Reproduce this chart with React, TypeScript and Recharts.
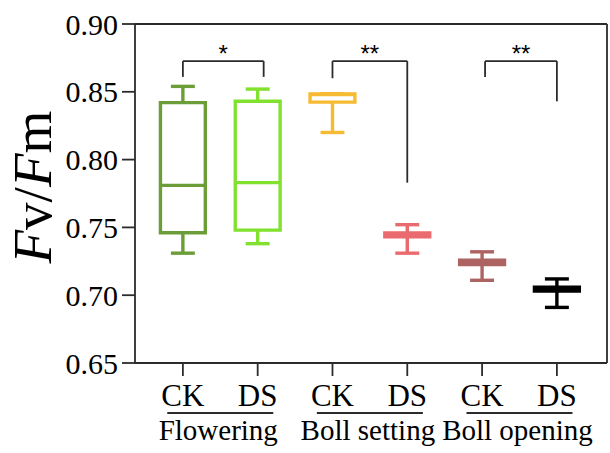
import {
  ComposedChart,
  XAxis,
  YAxis,
  Scatter,
  ReferenceArea,
  ReferenceLine,
} from "recharts"

// treatment / stage labels
const stages = ["Flowering", "Boll setting", "Boll opening"]
const treatments = ["CK", "DS"]

// one box per stage x treatment, placed at x = 1..6
const boxPos = [1, 2, 3, 4, 5, 6]
const boxMin = [0.731, 0.738, 0.82, 0.731, 0.711, 0.691]
const boxQ1 = [0.746, 0.748, 0.8424, 0.7431, 0.7226, 0.703]
const boxMedian = [0.781, 0.783, 0.848, 0.7445, 0.7242, 0.7045]
const boxQ3 = [0.842, 0.843, 0.8485, 0.7459, 0.7258, 0.7059]
const boxMax = [0.854, 0.852, 0.8485, 0.752, 0.732, 0.712]
const boxColors = ["#6b9d39", "#80e12f", "#f6bb33", "#ea6b6f", "#ae6363", "#000000"]

// significance brackets between CK and DS
const bracketFrom = [1, 3, 5.04]
const bracketTo = [2.08, 4, 6]
const bracketTop = [0.8726, 0.8726, 0.8726]
const bracketLeftEnd = [0.861, 0.86, 0.861]
const bracketRightEnd = [0.861, 0.783, 0.843]
const bracketMarks = ["*", "**", "**"]

const yTicks = [0.65, 0.7, 0.75, 0.8, 0.85, 0.9]
const xTicks = [1, 2, 3, 4, 5, 6]

const WIDTH = 610
const HEIGHT = 453
const MARGIN = { top: 24, right: 3, left: 0, bottom: 0 }
const Y_AXIS_W = 135
const X_DOMAIN: [number, number] = [0.36, 6.67]
const PX_PER_UNIT = (WIDTH - Y_AXIS_W - MARGIN.right) / (X_DOMAIN[1] - X_DOMAIN[0])
const BOX_HALF = 0.3
const CAP_HALF = 0.16
const AXIS = "#2b2b2b"
const SERIF = '"Liberation Serif", "Times New Roman", serif'

const marks = bracketMarks.map((m, i) => ({
  x: (bracketFrom[i] + bracketTo[i]) / 2,
  y: bracketTop[i],
  mark: m,
}))

// CK / DS under each tick; under every CK also the stage name with its rule
function TreatmentTick(props: any) {
  const { x, y, payload } = props
  const idx = Math.round(payload.value) - 1
  const isFirst = idx % 2 === 0
  const mid = x + PX_PER_UNIT / 2
  return (
    <g>
      <text x={x} y={y + 23} textAnchor="middle" fontFamily={SERIF} fontSize={31} fill="#000">
        {treatments[idx % 2]}
      </text>
      {isFirst && (
        <>
          <line x1={mid - 53} x2={mid + 53} y1={y + 30} y2={y + 30} stroke={AXIS} strokeWidth={2} />
          <text x={mid - 2} y={y + 57} textAnchor="middle" fontFamily={SERIF} fontSize={29} fill="#000">
            {stages[idx / 2]}
          </text>
        </>
      )}
    </g>
  )
}

// rotated axis title, anchored at its lower end
function YLabel(props: any) {
  const vb = props.viewBox || { x: 0, y: 24, width: 135, height: 339 }
  const cx = vb.x + 32
  const bottom = vb.y + vb.height / 2 + 70
  return (
    <g transform={`translate(${cx}, ${bottom}) rotate(-90)`}>
      <text
        x={0}
        y={0}
        textAnchor="start"
        dominantBaseline="central"
        fontFamily={SERIF}
        fontSize={55}
        fill="#000"
      >
        <tspan fontStyle="italic">F</tspan>
        <tspan>v/</tspan>
        <tspan fontStyle="italic">F</tspan>
        <tspan>m</tspan>
      </text>
    </g>
  )
}

export default function App() {
  return (
    <div style={{ position: "absolute", left: 0, top: 0, width: WIDTH, height: HEIGHT, background: "#fff" }}>
      <ComposedChart width={WIDTH} height={HEIGHT} margin={MARGIN}>
        <XAxis
          dataKey="x"
          type="number"
          domain={X_DOMAIN}
          ticks={xTicks}
          allowDataOverflow
          height={90}
          tick={<TreatmentTick />}
          tickSize={13}
          tickMargin={7}
          stroke={AXIS}
          strokeWidth={1.8}
        />
        <YAxis
          dataKey="y"
          type="number"
          domain={[0.65, 0.9]}
          ticks={yTicks}
          allowDataOverflow
          width={Y_AXIS_W}
          tickFormatter={(v: number) => v.toFixed(2)}
          tick={{ fontFamily: SERIF, fontSize: 30, fill: "#000" }}
          tickSize={13}
          tickMargin={4}
          stroke={AXIS}
          strokeWidth={1.8}
          label={<YLabel />}
        />

        {/* frame */}
        <ReferenceLine y={0.9} stroke={AXIS} strokeWidth={1.8} />
        <ReferenceLine x={X_DOMAIN[1]} stroke={AXIS} strokeWidth={1.8} />

        {/* boxes */}
        {boxPos.map((p, i) => (
          <ReferenceArea
            key={`box-${i}`}
            x1={p - BOX_HALF}
            x2={p + BOX_HALF}
            y1={boxQ1[i]}
            y2={boxQ3[i]}
            fill="none"
            stroke={boxColors[i]}
            strokeWidth={3.4}
            ifOverflow="visible"
          />
        ))}
        {/* medians */}
        {boxPos.map((p, i) => (
          <ReferenceLine
            key={`med-${i}`}
            segment={[
              { x: p - BOX_HALF, y: boxMedian[i] },
              { x: p + BOX_HALF, y: boxMedian[i] },
            ]}
            stroke={boxColors[i]}
            strokeWidth={3.4}
            ifOverflow="visible"
          />
        ))}
        {/* whiskers and caps */}
        {boxPos.map((p, i) => (
          <ReferenceLine
            key={`wu-${i}`}
            segment={[
              { x: p, y: boxQ3[i] },
              { x: p, y: boxMax[i] },
            ]}
            stroke={boxColors[i]}
            strokeWidth={3.4}
            ifOverflow="visible"
          />
        ))}
        {boxPos.map((p, i) => (
          <ReferenceLine
            key={`wl-${i}`}
            segment={[
              { x: p, y: boxQ1[i] },
              { x: p, y: boxMin[i] },
            ]}
            stroke={boxColors[i]}
            strokeWidth={3.4}
            ifOverflow="visible"
          />
        ))}
        {boxPos.map((p, i) => (
          <ReferenceLine
            key={`cu-${i}`}
            segment={[
              { x: p - CAP_HALF, y: boxMax[i] },
              { x: p + CAP_HALF, y: boxMax[i] },
            ]}
            stroke={boxColors[i]}
            strokeWidth={3.4}
            ifOverflow="visible"
          />
        ))}
        {boxPos.map((p, i) => (
          <ReferenceLine
            key={`cl-${i}`}
            segment={[
              { x: p - CAP_HALF, y: boxMin[i] },
              { x: p + CAP_HALF, y: boxMin[i] },
            ]}
            stroke={boxColors[i]}
            strokeWidth={3.4}
            ifOverflow="visible"
          />
        ))}

        {/* significance brackets */}
        {bracketFrom.map((f, i) => (
          <ReferenceLine
            key={`br-${i}`}
            segment={[
              { x: f, y: bracketLeftEnd[i] },
              { x: f, y: bracketTop[i] },
            ]}
            stroke={AXIS}
            strokeWidth={1.8}
            ifOverflow="visible"
          />
        ))}
        {bracketFrom.map((f, i) => (
          <ReferenceLine
            key={`bt-${i}`}
            segment={[
              { x: f, y: bracketTop[i] },
              { x: bracketTo[i], y: bracketTop[i] },
            ]}
            stroke={AXIS}
            strokeWidth={1.8}
            ifOverflow="visible"
          />
        ))}
        {bracketTo.map((t, i) => (
          <ReferenceLine
            key={`bq-${i}`}
            segment={[
              { x: t, y: bracketTop[i] },
              { x: t, y: bracketRightEnd[i] },
            ]}
            stroke={AXIS}
            strokeWidth={1.8}
            ifOverflow="visible"
          />
        ))}

        <Scatter
          data={marks}
          dataKey="y"
          isAnimationActive={false}
          shape={(p: any) => (
            <text
              x={p.cx}
              y={p.cy + 1}
              textAnchor="middle"
              fontFamily='"Liberation Sans", Arial, sans-serif'
              fontSize={24}
              fill="#000"
            >
              {p.payload.mark}
            </text>
          )}
        />
      </ComposedChart>
    </div>
  )
}
